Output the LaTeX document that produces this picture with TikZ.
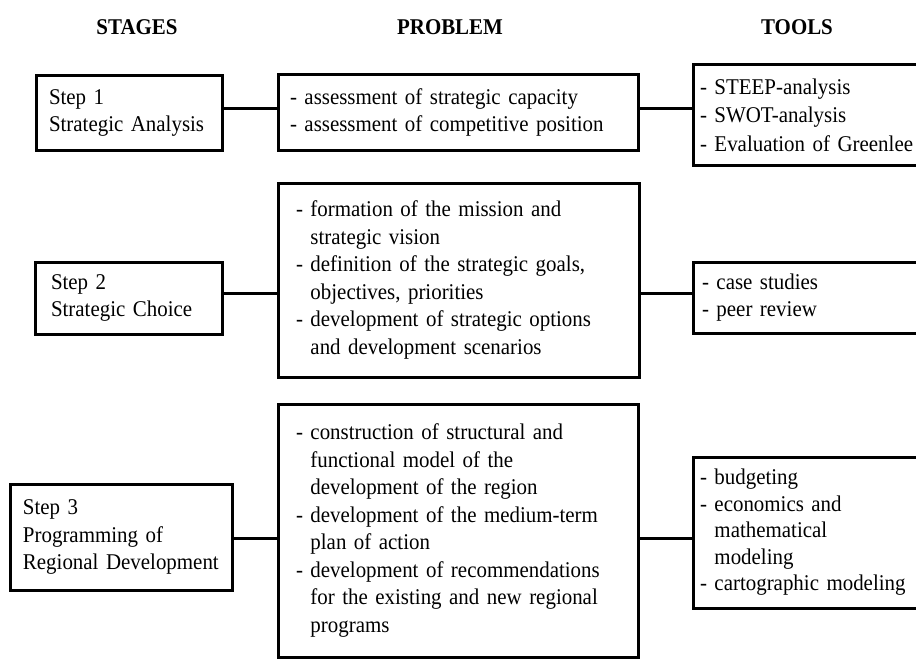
\documentclass[tikz,border=0pt]{standalone}
\usepackage{fontspec}
\setmainfont{Liberation Serif}[FakeStretch=0.93]
\begin{document}
\begin{tikzpicture}[x=1pt,y=-1pt,
  every node/.style={font=\fontsize{22.5}{27.5}\selectfont, text=black},
  hdr/.style={font=\fontsize{22.5}{27.5}\selectfont\bfseries, anchor=base, inner sep=0pt},
  box/.style={draw, line width=3pt, align=left, inner ysep=0pt},
  link/.style={line width=3pt}]
\useasboundingbox (0,0) rectangle (916,661);
\clip (0,0) rectangle (916,661);

% headers
\node[hdr] (hs) at (137,35) {STAGES};
\node[hdr] (hp) at (450,35) {PROBLEM};
\node[hdr] (ht) at (797,35) {TOOLS};

% row 1
\node[box, minimum width=186pt, minimum height=74pt, text width=160pt, inner xsep=13pt] (s1) at (129,113)
  {Step 1\\Strategic Analysis};
\node[box, minimum width=360pt, minimum height=75pt, text width=336pt, inner xsep=12pt] (p1) at (458,112.5)
  {- assessment of strategic capacity\\- assessment of competitive position};
\node[box, minimum width=250pt, minimum height=100pt, text width=236pt, inner xsep=7pt,
  font=\fontsize{22.5}{28.5}\selectfont] (t1) at (818,115)
  {- STEEP-analysis\\- SWOT-analysis\\- Evaluation of Greenlee};

% row 2
\node[box, minimum width=187pt, minimum height=72pt, text width=155pt, inner xsep=16pt] (s2) at (128.5,298)
  {Step 2\\Strategic Choice};
\node[box, minimum width=361pt, minimum height=194pt, text width=325pt, inner xsep=18pt] (p2) at (458.5,280)
  {- formation of the mission and\\\hphantom{- }strategic vision\\- definition of the strategic goals,\\\hphantom{- }objectives, priorities\\- development of strategic options\\\hphantom{- }and development scenarios};
\node[box, minimum width=250pt, minimum height=71pt, text width=232pt, inner xsep=9pt] (t2) at (818,297.5)
  {- case studies\\- peer review};

% row 3
\node[box, minimum width=222pt, minimum height=106pt, text width=196pt, inner xsep=13pt] (s3) at (121,537)
  {Step 3\\Programming of\\Regional Development};
\node[box, minimum width=360pt, minimum height=253pt, text width=324pt, inner xsep=18pt] (p3) at (458,530.5)
  {- construction of structural and\\\hphantom{- }functional model of the\\\hphantom{- }development of the region\\- development of the medium-term\\\hphantom{- }plan of action\\- development of recommendations\\\hphantom{- }for the existing and new regional\\\hphantom{- }programs};
\node[box, minimum width=250pt, minimum height=151pt, text width=236pt, inner xsep=7pt,
  font=\fontsize{22.5}{26.5}\selectfont] (t3) at (818,532.5)
  {- budgeting\\- economics and\\\hphantom{- }mathematical\\\hphantom{- }modeling\\- cartographic modeling};

% connectors
\draw[link] (s1.east |- 0,108) -- (p1.west |- 0,108);
\draw[link] (p1.east |- 0,108) -- (t1.west |- 0,108);
\draw[link] (s2.east |- 0,293) -- (p2.west |- 0,293);
\draw[link] (p2.east |- 0,293) -- (t2.west |- 0,293);
\draw[link] (s3.east |- 0,538) -- (p3.west |- 0,538);
\draw[link] (p3.east |- 0,538) -- (t3.west |- 0,538);
\end{tikzpicture}
\end{document}
